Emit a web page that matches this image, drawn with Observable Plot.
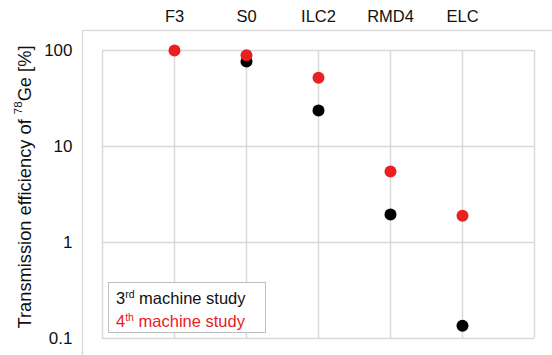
<!DOCTYPE html>
<html><head><meta charset="utf-8">
<script src="https://cdn.jsdelivr.net/npm/d3@7"></script>
<script src="https://cdn.jsdelivr.net/npm/@observablehq/plot@0.6"></script>
<style>
body{margin:0;background:#fff;font-family:"Liberation Sans",Arial,sans-serif;}
#wrap{position:relative;width:552px;height:355px;overflow:hidden;background:#fff}
#legend{position:absolute;left:108px;top:282px;width:158px;height:51px;border:1px solid #bfbfbf;background:#fff;font-size:16.5px;line-height:21px;box-sizing:border-box;padding:5px 0 0 7px;white-space:nowrap;color:#111}
#legend sup{font-size:10.5px;vertical-align:baseline;position:relative;top:-6px}
#legend .l4{color:#e8201f}
</style></head>
<body><div id="wrap"></div>
<script>
const stations = ["F3", "S0", "ILC2", "RMD4", "ELC"];
const study3 = [null, 77, 23.7, 1.96, 0.136];
const study4 = [100, 89, 52, 5.5, 1.9];
const yTicks = [0.1, 1, 10, 100];

const rows3 = stations.map((s, i) => ({station: s, pos: i + 1, value: study3[i]})).filter(d => d.value != null);
const rows4 = stations.map((s, i) => ({station: s, pos: i + 1, value: study4[i]}));
const xGrid = d3.range(0, stations.length + 2);
const xPos = stations.map((s, i) => i + 1);

const grid = "#d9d9d9";
const chart = Plot.plot({
  width: 552, height: 355,
  marginLeft: 102, marginRight: 18, marginTop: 50, marginBottom: 17,
  x: {domain: [0, stations.length + 1], axis: null},
  y: {type: "log", domain: [0.1, 100], axis: null},
  style: {fontFamily: '"Liberation Sans", Arial, sans-serif', fontSize: "17px", color: "#111", background: "transparent"},
  marks: [
    Plot.frame({stroke: grid, strokeWidth: 1.3, insetLeft: -20, insetTop: -20, insetRight: -40, insetBottom: -40}),
    Plot.gridX(xGrid, {stroke: grid, strokeOpacity: 1, strokeWidth: 1.5}),
    Plot.gridY(yTicks, {stroke: grid, strokeOpacity: 1, strokeWidth: 1.5}),
    Plot.axisX(xPos, {anchor: "top", tickSize: 0, tickPadding: 29, label: null, fontSize: 16.5, tickFormat: d => stations[d - 1]}),
    Plot.axisY(yTicks, {anchor: "left", tickSize: 0, tickPadding: 30, label: null, fontSize: 17, tickFormat: d => String(d)}),
    Plot.dot(rows3, {x: "pos", y: "value", r: 6, fill: "#000"}),
    Plot.dot(rows4, {x: "pos", y: "value", r: 6, fill: "#e8201f"})
  ]
});
document.getElementById("wrap").appendChild(chart);

const svg = d3.select(chart);
const t = svg.append("text")
  .attr("transform", "translate(26,187) rotate(-90)")
  .attr("text-anchor", "middle")
  .attr("dominant-baseline", "middle")
  .attr("font-size", 18.3)
  .attr("fill", "#111");
t.append("tspan").text("Transmission efficiency of ");
t.append("tspan").attr("font-size", 11.5).attr("dy", -7).text("78");
t.append("tspan").attr("dy", 7).text("Ge [%]");

const lg = document.createElement("div");
lg.id = "legend";
lg.innerHTML = '<div>3<sup>rd</sup> machine study</div><div class="l4">4<sup>th</sup> machine study</div>';
document.getElementById("wrap").appendChild(lg);
</script></body></html>
